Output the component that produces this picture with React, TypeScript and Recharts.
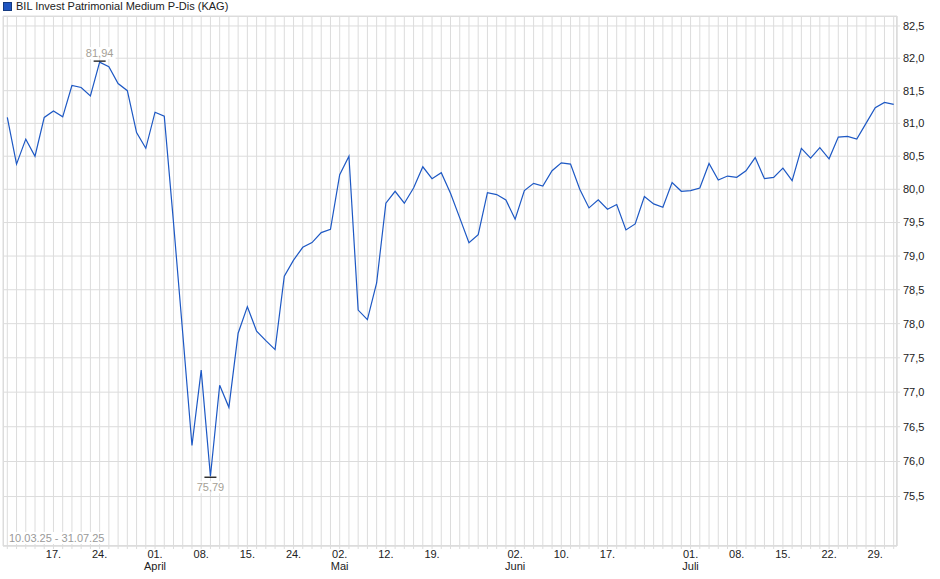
import React from "react";
import { LineChart, Line, XAxis, YAxis, CartesianGrid } from "recharts";

const dates = [
  "10.03", "11.03", "12.03", "13.03", "14.03", "17.03", "18.03", "19.03", "20.03", "21.03",
  "24.03", "25.03", "26.03", "27.03", "28.03", "31.03",
  "01.04", "02.04", "03.04", "04.04", "07.04", "08.04", "09.04", "10.04", "11.04", "14.04",
  "15.04", "16.04", "17.04", "22.04", "23.04", "24.04", "25.04", "28.04", "29.04", "30.04",
  "02.05", "05.05", "06.05", "07.05", "08.05", "12.05", "13.05", "14.05", "15.05", "16.05",
  "19.05", "20.05", "21.05", "22.05", "23.05", "26.05", "27.05", "28.05", "30.05",
  "02.06", "03.06", "04.06", "05.06", "06.06", "10.06", "11.06", "12.06", "13.06", "16.06",
  "17.06", "18.06", "19.06", "20.06", "24.06", "25.06", "26.06", "27.06", "30.06",
  "01.07", "02.07", "03.07", "04.07", "07.07", "08.07", "09.07", "10.07", "11.07", "14.07",
  "15.07", "16.07", "17.07", "18.07", "21.07", "22.07", "23.07", "24.07", "25.07", "28.07",
  "29.07", "30.07", "31.07",
];

const prices = [
  81.09, 80.38, 80.76, 80.5, 81.09, 81.19, 81.1, 81.58, 81.55, 81.42,
  81.94, 81.87, 81.61, 81.5, 80.86, 80.62,
  81.17, 81.11, 79.5, 77.86, 76.23, 77.32, 75.79, 77.1, 76.78, 77.86,
  78.25, 77.89, 77.75, 77.62, 78.7, 78.94, 79.13, 79.2, 79.35, 79.4,
  80.22, 80.5, 78.2, 78.06, 78.6, 79.79, 79.97, 79.79, 80.02, 80.34,
  80.16, 80.25, 79.94, 79.57, 79.2, 79.32, 79.95, 79.92, 79.84,
  79.55, 79.98, 80.09, 80.05, 80.28, 80.4, 80.38, 80.0, 79.72, 79.84,
  79.7, 79.77, 79.39, 79.48, 79.89, 79.78, 79.73, 80.1, 79.97,
  79.98, 80.02, 80.39, 80.14, 80.2, 80.18, 80.28, 80.48, 80.16, 80.18,
  80.32, 80.13, 80.62, 80.47, 80.63, 80.46, 80.79, 80.8, 80.76, 81.0,
  81.24, 81.32, 81.29,
];

const dayTicks = [
  "17.03", "24.03", "01.04", "08.04", "15.04", "24.04", "02.05", "12.05", "19.05",
  "02.06", "10.06", "17.06", "01.07", "08.07", "15.07", "22.07", "29.07",
];
const monthTicks: Record<string, string> = { "01.04": "April", "02.05": "Mai", "02.06": "Juni", "01.07": "Juli" };

const yTicks = [75.5, 76, 76.5, 77, 77.5, 78, 78.5, 79, 79.5, 80, 80.5, 81, 81.5, 82, 82.5];

const title = "BIL Invest Patrimonial Medium P-Dis (KAG)";
const period = "10.03.25 - 31.07.25";

const data = dates.map((d, i) => ({ date: d, price: prices[i] }));
const maxIdx = prices.indexOf(Math.max(...prices));
const minIdx = prices.indexOf(Math.min(...prices));

const fmt = (v: number, d: number) => v.toFixed(d).replace(".", ",");
const font = "'Liberation Sans', Arial, sans-serif";
const grid = "#dcdcdc";

const DateTick = (props: any) => {
  const { x, y, payload } = props;
  const v = payload.value as string;
  if (!dayTicks.includes(v)) return null;
  return (
    <g>
      <text x={x} y={y + 9} textAnchor="middle" fontSize={11} fill="#222" fontFamily={font}>
        {v.slice(0, 3)}
      </text>
      {monthTicks[v] && (
        <text x={x} y={y + 21} textAnchor="middle" fontSize={11} fill="#222" fontFamily={font}>
          {monthTicks[v]}
        </text>
      )}
    </g>
  );
};

const ExtremeLabel = (props: any) => {
  const { x, y, index, value } = props;
  if (index !== maxIdx && index !== minIdx) return null;
  const top = index === maxIdx;
  const ty = top ? y - 5 : y + 15;
  return (
    <g>
      <rect x={x - 16} y={ty - 10} width={32} height={12} fill="#fff" />
      <text x={x} y={ty} textAnchor="middle" fontSize={11} fill="#a59f96" fontFamily={font}>
        {fmt(value, 2)}
      </text>
      <line x1={x - 6} x2={x + 6} y1={top ? y - 1 : y + 1} y2={top ? y - 1 : y + 1} stroke="#000" strokeWidth={1.2} />
    </g>
  );
};

export default function App() {
  return (
    <div style={{ position: "absolute", left: 0, top: 0, width: 940, height: 579, background: "#fff", fontFamily: font }}>
      <div style={{ position: "absolute", left: 3, top: 1, display: "flex", alignItems: "center", fontSize: 11, color: "#222", lineHeight: "11px" }}>
        <span style={{ display: "inline-block", width: 7, height: 7, background: "#1f55c0", border: "1px solid #143a80", marginRight: 4 }} />
        {title}
      </div>
      <LineChart width={940} height={579} data={data} margin={{ top: 16, right: 3, bottom: 0, left: 3 }}>
        <CartesianGrid stroke={grid} strokeWidth={1} />
        <XAxis
          dataKey="date"
          interval={0}
          tick={<DateTick />}
          tickSize={3}
          tickMargin={0}
          height={33}
          padding={{ left: 4.3, right: 3.3 }}
          axisLine={{ stroke: grid }}
          tickLine={{ stroke: grid }}
        />
        <YAxis
          orientation="right"
          scale="log"
          domain={[74.8, 82.655]}
          allowDataOverflow
          ticks={yTicks}
          tickFormatter={(v: number) => fmt(v, 1)}
          width={40}
          tickSize={3}
          tickMargin={3}
          axisLine={{ stroke: grid }}
          tickLine={{ stroke: grid }}
          tick={{ fontSize: 11, fill: "#222", fontFamily: font, textAnchor: "start" }}
        />
        <Line
          type="linear"
          dataKey="price"
          stroke="#1d58c4"
          strokeWidth={1.2}
          dot={false}
          isAnimationActive={false}
          label={<ExtremeLabel />}
        />
      </LineChart>
      <div style={{ position: "absolute", left: 3, top: 16, width: 894, height: 530, border: `1px solid ${grid}`, boxSizing: "border-box", pointerEvents: "none" }} />
      <div style={{ position: "absolute", left: 8, top: 532, fontSize: 11, color: "#999", background: "#fff", lineHeight: "12px", padding: "0 1px" }}>
        {period}
      </div>
    </div>
  );
}
